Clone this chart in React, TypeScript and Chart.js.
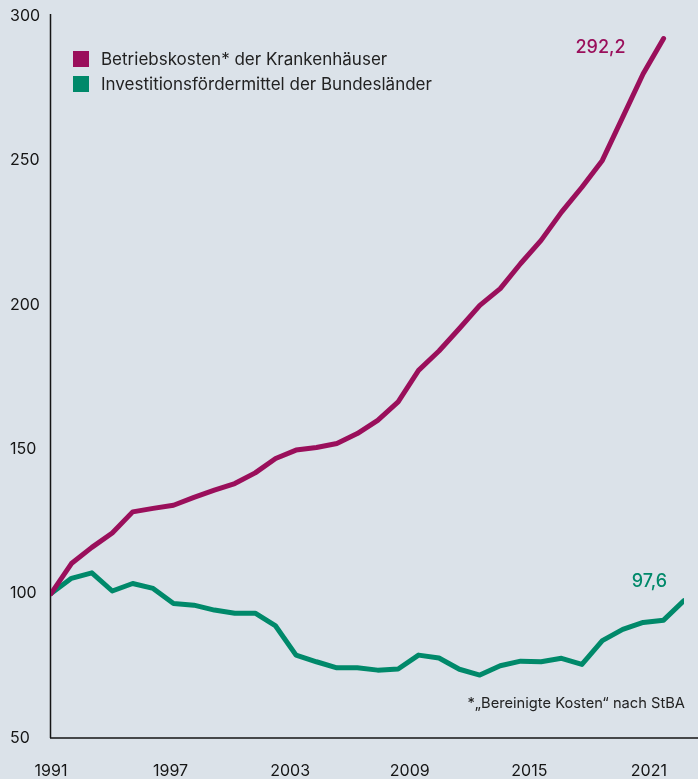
import React, { useEffect, useRef } from "react";
import { Chart, registerables } from "chart.js";

Chart.register(...registerables);

const years = [
  1991, 1992, 1993, 1994, 1995, 1996, 1997, 1998, 1999, 2000, 2001, 2002, 2003, 2004, 2005, 2006,
  2007, 2008, 2009, 2010, 2011, 2012, 2013, 2014, 2015, 2016, 2017, 2018, 2019, 2020, 2021, 2022,
];
const betriebskosten = [
  100, 110.4, 116.0, 121.0, 128.3, 129.5, 130.6, 133.3, 135.8, 138.1, 141.8, 146.8, 149.7, 150.6,
  152.0, 155.4, 160.0, 166.4, 177.3, 184.0, 191.8, 199.8, 205.6, 214.3, 222.3, 232.1, 240.7, 250.0,
  265.0, 280.0, 292.2, null,
];
const investitionen = [
  100, 105.3, 107.2, 100.9, 103.5, 101.8, 96.6, 96.0, 94.3, 93.2, 93.2, 88.8, 78.7, 76.4, 74.3, 74.3,
  73.5, 73.9, 78.7, 77.7, 73.8, 71.8, 75.0, 76.6, 76.4, 77.6, 75.5, 83.7, 87.6, 90.0, 90.8, 97.6,
];
const seriesNames = [
  "Betriebskosten* der Krankenhäuser",
  "Investitionsfördermittel der Bundesländer",
];
const xTickLabels = [1991, 1997, 2003, 2009, 2015, 2021];
const yTicks = [50, 100, 150, 200, 250, 300];
const footnote = "*„Bereinigte Kosten“ nach StBA";

const MAGENTA = "#9a0f5b";
const GREEN = "#00896a";
const BG = "#dbe2e9";
const TEXT = "#151515";
const FONT = "Inter, 'Noto Sans', Roboto, sans-serif";

const fmt = (v: number) =>
  v.toLocaleString("de-DE", { minimumFractionDigits: 1, maximumFractionDigits: 1 });

const axisLinesPlugin = {
  id: "axisLines",
  beforeDatasetsDraw(chart: any) {
    const { ctx, chartArea, width } = chart;
    ctx.save();
    ctx.strokeStyle = TEXT;
    ctx.lineWidth = 1.5;
    ctx.beginPath();
    ctx.moveTo(chartArea.left - 0.5, chartArea.top - 2);
    ctx.lineTo(chartArea.left - 0.5, chartArea.bottom);
    ctx.moveTo(chartArea.left - 1, chartArea.bottom);
    ctx.lineTo(width, chartArea.bottom);
    ctx.stroke();
    ctx.restore();
  },
};

const endLabelsPlugin = {
  id: "endLabels",
  afterDatasetsDraw(chart: any) {
    const { ctx } = chart;
    const offsets = [
      { dx: -38, dy: 9 },
      { dx: -17, dy: -19 },
    ];
    chart.data.datasets.forEach((ds: any, i: number) => {
      const meta = chart.getDatasetMeta(i);
      let idx = -1;
      ds.data.forEach((p: any, j: number) => {
        if (p.y !== null && p.y !== undefined) idx = j;
      });
      if (idx < 0) return;
      const el = meta.data[idx];
      ctx.save();
      ctx.fillStyle = ds.borderColor;
      ctx.font = `500 18px ${FONT}`;
      ctx.textAlign = "right";
      ctx.textBaseline = "middle";
      ctx.fillText(fmt(ds.data[idx].y), el.x + offsets[i].dx, el.y + offsets[i].dy);
      ctx.restore();
    });
  },
};

export default function App() {
  const canvasRef = useRef<HTMLCanvasElement | null>(null);

  useEffect(() => {
    document.body.style.margin = "0";
    document.body.style.background = BG;
    const canvas = canvasRef.current;
    if (!canvas) return;
    Chart.defaults.font.family = FONT;
    const chart = new Chart(canvas, {
      type: "line",
      data: {
        datasets: [
          {
            label: seriesNames[0],
            data: years.map((y, i) => ({ x: y, y: betriebskosten[i] })),
            borderColor: MAGENTA,
            backgroundColor: MAGENTA,
            borderWidth: 5,
            pointRadius: 0,
            borderJoinStyle: "round",
            borderCapStyle: "round",
            tension: 0,
            spanGaps: false,
          },
          {
            label: seriesNames[1],
            data: years.map((y, i) => ({ x: y, y: investitionen[i] })),
            borderColor: GREEN,
            backgroundColor: GREEN,
            borderWidth: 5,
            pointRadius: 0,
            borderJoinStyle: "round",
            borderCapStyle: "round",
            tension: 0,
          },
        ],
      },
      options: {
        animation: false,
        responsive: true,
        maintainAspectRatio: false,
        layout: { padding: { left: 10, right: 14, top: 16, bottom: 0 } },
        plugins: { legend: { display: false }, tooltip: { enabled: false } },
        scales: {
          x: {
            type: "linear",
            min: years[0],
            max: years[years.length - 1],
            display: false,
          },
          xl: {
            type: "linear",
            position: "bottom",
            min: 1991,
            max: 2022.76,
            grid: { display: false, drawTicks: false },
            border: { display: false },
            afterBuildTicks: (scale: any) => {
              scale.ticks = xTickLabels.map((v) => ({ value: v }));
            },
            afterFit: (scale: any) => {
              scale.height = 41;
            },
            ticks: {
              padding: 24,
              color: TEXT,
              font: { size: 16, family: FONT },
              maxRotation: 0,
              autoSkip: false,
              callback: (v: any) => String(v),
            },
          },
          y: {
            type: "linear",
            min: 50,
            max: 300,
            grid: { display: false, drawTicks: false },
            border: { display: false },
            afterBuildTicks: (scale: any) => {
              scale.ticks = yTicks.map((v) => ({ value: v }));
            },
            afterFit: (scale: any) => {
              scale.width = 41;
            },
            ticks: {
              crossAlign: "far",
              color: TEXT,
              font: { size: 16, family: FONT },
              callback: (v: any) => String(v),
            },
          },
        },
      },
      plugins: [axisLinesPlugin, endLabelsPlugin],
    } as any);
    return () => chart.destroy();
  }, []);

  const legendColors = [MAGENTA, GREEN];

  return (
    <div
      style={{
        position: "relative",
        width: 698,
        height: 779,
        background: BG,
        fontFamily: FONT,
        overflow: "hidden",
      }}
    >
      <canvas ref={canvasRef} />
      <div style={{ position: "absolute", left: 73, top: 46 }}>
        {seriesNames.map((name, i) => (
          <div key={name} style={{ display: "flex", alignItems: "center", height: 25 }}>
            <span
              style={{
                display: "inline-block",
                width: 16,
                height: 16,
                background: legendColors[i],
              }}
            />
            <span style={{ marginLeft: 12, fontSize: 17, color: "#222", whiteSpace: "nowrap" }}>
              {name}
            </span>
          </div>
        ))}
      </div>
      <div
        style={{
          position: "absolute",
          right: 13,
          top: 694,
          fontSize: 14.7,
          color: "#222",
          whiteSpace: "nowrap",
          lineHeight: "18px",
        }}
      >
        {footnote}
      </div>
    </div>
  );
}
